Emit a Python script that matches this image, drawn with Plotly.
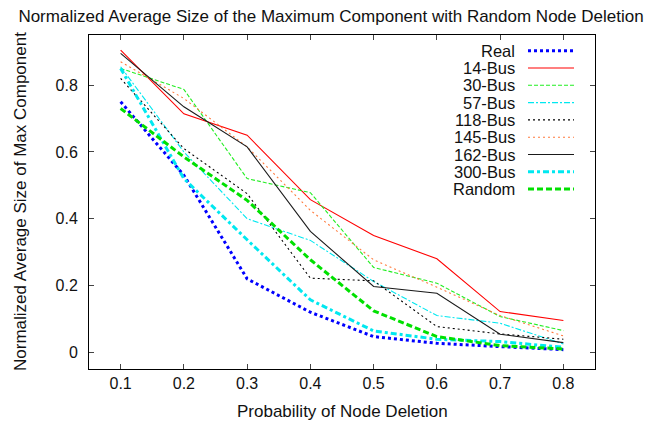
import plotly.graph_objects as go

x_vals = [0.1, 0.2, 0.3, 0.4, 0.5, 0.6, 0.7, 0.8]
x_tick_labels = ["0.1", "0.2", "0.3", "0.4", "0.5", "0.6", "0.7", "0.8"]
y_tick_vals = [0, 0.2, 0.4, 0.6, 0.8]
y_tick_labels = ["0", "0.2", "0.4", "0.6", "0.8"]

series_names = ["Real", "14-Bus", "30-Bus", "57-Bus", "118-Bus", "145-Bus", "162-Bus", "300-Bus", "Random"]

real = [0.75, 0.53, 0.22, 0.12, 0.047, 0.027, 0.017, 0.008]
bus14 = [0.905, 0.714, 0.65, 0.457, 0.35, 0.28, 0.122, 0.095]
bus30 = [0.85, 0.787, 0.52, 0.478, 0.254, 0.207, 0.107, 0.065]
bus57 = [0.855, 0.60, 0.40, 0.335, 0.212, 0.11, 0.087, 0.025]
bus118 = [0.82, 0.61, 0.475, 0.222, 0.214, 0.077, 0.055, 0.039]
bus145 = [0.87, 0.76, 0.615, 0.425, 0.277, 0.195, 0.11, 0.049]
bus162 = [0.895, 0.735, 0.615, 0.362, 0.197, 0.177, 0.054, 0.029]
bus300 = [0.85, 0.52, 0.337, 0.157, 0.064, 0.039, 0.032, 0.015]
random_del = [0.73, 0.585, 0.455, 0.277, 0.124, 0.047, 0.02, 0.01]

series_values = [real, bus14, bus30, bus57, bus118, bus145, bus162, bus300, random_del]

styles = [
    dict(color="#0000ff", width=3, dash="3px,3px"),
    dict(color="#ff0000", width=1.1, dash="solid"),
    dict(color="#22ee22", width=1.1, dash="4px,2px"),
    dict(color="#00e8f0", width=1.1, dash="6px,2px,2px,2px"),
    dict(color="#000000", width=1.1, dash="2px,3px"),
    dict(color="#ff7a3c", width=1.1, dash="2px,3px"),
    dict(color="#1a1a1a", width=1.1, dash="solid"),
    dict(color="#00e8f0", width=3, dash="6px,3px,3px,3px"),
    dict(color="#00e000", width=3, dash="6px,3px"),
]

FONT = "Liberation Sans, Arial, sans-serif"
TXT = "#111111"
OFF = 8  # page body margin of the html page
W, H = 662 - OFF, 426 - OFF
L, T = 89 - OFF, 35 - OFF
plot_w, plot_h = 506, 334
R = W - L - plot_w
B = H - T - plot_h

fig = go.Figure()
for name, vals, st in zip(series_names, series_values, styles):
    fig.add_trace(go.Scatter(x=x_vals, y=vals, mode="lines", name=name,
                             line=dict(color=st["color"], width=st["width"], dash=st["dash"]),
                             showlegend=False))

# page pixel -> paper coordinates
def px_to_paper_x(px):
    return (px - OFF - L) / plot_w
def px_to_paper_y(py):
    return (T + plot_h - (py - OFF)) / plot_h

shapes = []
annotations = []
row0, row_step = 50.7, 17.3
for i, (name, st) in enumerate(zip(series_names, styles)):
    py = row0 + i * row_step
    yy = px_to_paper_y(py)
    annotations.append(dict(text=name, xref="paper", yref="paper",
                            x=px_to_paper_x(517), y=yy, xanchor="right", yanchor="middle",
                            showarrow=False, font=dict(family=FONT, size=16.5, color=TXT)))
    shapes.append(dict(type="line", xref="paper", yref="paper",
                       x0=px_to_paper_x(528), x1=px_to_paper_x(574), y0=yy, y1=yy,
                       line=dict(color=st["color"], width=st["width"], dash=st["dash"])))

annotations.append(dict(text="Probability of Node Deletion", xref="paper", yref="paper",
                        x=0.5, y=px_to_paper_y(411), xanchor="center", yanchor="middle",
                        showarrow=False, font=dict(family=FONT, size=17, color=TXT)))
annotations.append(dict(text="Normalized Average Size of Max Component", xref="paper", yref="paper",
                        x=px_to_paper_x(20), y=px_to_paper_y(202), xanchor="center", yanchor="middle",
                        textangle=-90, showarrow=False, font=dict(family=FONT, size=17, color=TXT)))

fig.update_layout(
    width=W, height=H,
    margin=dict(l=L, r=R, t=T, b=B, pad=0),
    paper_bgcolor="white", plot_bgcolor="white",
    font=dict(family=FONT, size=16, color=TXT),
    title=dict(text="Normalized Average Size of the Maximum Component with Random Node Deletion",
               x=(331 - OFF) / W, xref="container", xanchor="center",
               y=1 - (16.5 - OFF) / H, yref="container", yanchor="middle",
               font=dict(family=FONT, size=17, color=TXT)),
    shapes=shapes, annotations=annotations,
    showlegend=False,
)

fig.update_xaxes(range=[0.05, 0.85], tickvals=x_vals, ticktext=x_tick_labels,
                 ticks="inside", ticklen=5, tickcolor="#444", tickwidth=1,
                 tickfont=dict(family=FONT, size=16, color=TXT),
                 showline=True, linecolor="black", linewidth=1, mirror="ticks",
                 showgrid=False, zeroline=False, automargin=False)
fig.update_yaxes(range=[-0.05, 0.95], tickvals=y_tick_vals, ticktext=y_tick_labels,
                 ticks="inside", ticklen=5, tickcolor="#444", tickwidth=1,
                 tickfont=dict(family=FONT, size=16, color=TXT), ticklabelstandoff=7,
                 showline=True, linecolor="black", linewidth=1, mirror="ticks",
                 showgrid=False, zeroline=False, automargin=False)

fig.write_html("out.html")
